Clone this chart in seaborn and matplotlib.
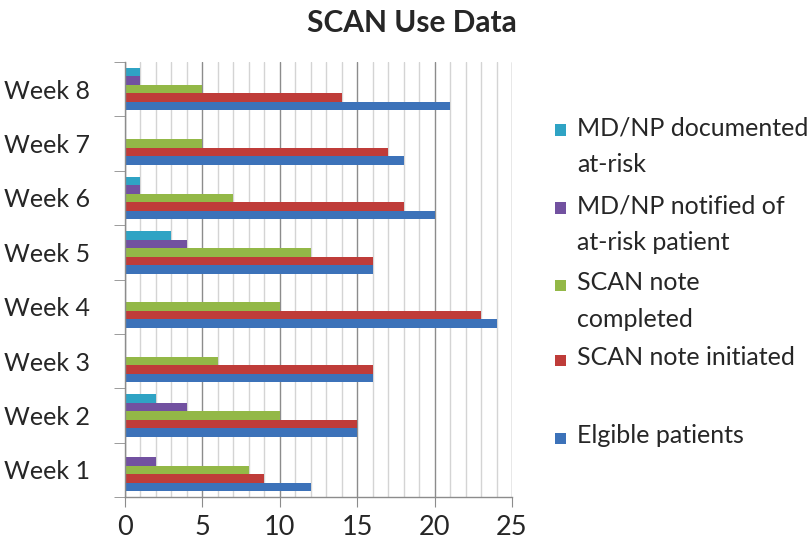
import matplotlib
matplotlib.use("Agg")
import matplotlib.pyplot as plt
import seaborn as sns
import pandas as pd
from matplotlib.patches import Rectangle
from matplotlib.ticker import MultipleLocator

weeks = ["Week 1", "Week 2", "Week 3", "Week 4", "Week 5", "Week 6", "Week 7", "Week 8"]
series = ["MD/NP documented at-risk", "MD/NP notified of at-risk patient",
          "SCAN note completed", "SCAN note initiated", "Elgible patients"]
legend_labels = ["MD/NP documented\nat-risk", "MD/NP notified of\nat-risk patient",
                 "SCAN note\ncompleted", "SCAN note initiated", "Elgible patients"]
documented = [0, 2, 0, 0, 3, 1, 0, 1]
notified = [2, 4, 0, 0, 4, 1, 0, 1]
completed = [8, 10, 6, 10, 12, 7, 5, 5]
initiated = [9, 15, 16, 23, 16, 18, 17, 14]
eligible = [12, 15, 16, 24, 16, 20, 18, 21]
colors = ["#2FA3C4", "#7251A0", "#93B847", "#BF3C39", "#3C72B9"]

rows = []
for name, vals in zip(series, [documented, notified, completed, initiated, eligible]):
    for w, v in zip(weeks, vals):
        rows.append({"week": w, "series": name, "value": v})
df = pd.DataFrame(rows)

sns.set_style("white")
plt.rcParams['font.family'] = ['Lato', 'DejaVu Sans']

fig = plt.figure(figsize=(8.12, 5.44), dpi=100)
ax = fig.add_axes([125/812, 1-497/544, (512-125)/812, (497-62)/544])

sns.barplot(data=df, y="week", x="value", hue="series", order=weeks[::-1],
            hue_order=series, palette=colors, orient="h", width=0.78,
            ax=ax, legend=False, saturation=1, edgecolor="none")

ax.set_xlim(0, 25)
ax.xaxis.set_major_locator(MultipleLocator(5))
ax.xaxis.set_minor_locator(MultipleLocator(1))
ax.grid(False)
ax.grid(True, axis="x", which="minor", color="#d4d4d4", lw=1.0, zorder=0)
ax.grid(True, axis="x", which="major", color="#8c8c8c", lw=1.0, zorder=0)
ax.set_axisbelow(True)
for s in ["top", "right"]:
    ax.spines[s].set_visible(False)
for s in ["left", "bottom"]:
    ax.spines[s].set_color("#8c8c8c")
    ax.spines[s].set_linewidth(1.0)
ax.set_xlabel("")
ax.set_ylabel("")
ax.tick_params(axis="x", which="major", direction="out", length=7, color="#8c8c8c",
               labelsize=19.5, pad=6, bottom=True)
ax.tick_params(axis="x", which="minor", length=0)
ax.set_yticks([i + 0.5 for i in range(-1, 8)], minor=True)
ax.tick_params(axis="y", which="minor", direction="out", length=8, color="#8c8c8c", left=True)
ax.tick_params(axis="y", which="major", length=0, labelsize=18, pad=25)

fig.text(412/812, 1 - 23/544, "SCAN Use Data", ha="center", va="center",
         fontsize=21.5, fontweight="bold")

# legend
ys = [130, 208, 285, 360, 438]
for lab, col, y in zip(legend_labels, colors, ys):
    fig.add_artist(Rectangle((555/812, 1 - (y + 5.5)/544), 11/812, 11/544,
                             transform=fig.transFigure, facecolor=col, edgecolor="none"))
    fig.text(577/812, 1 - (y - 14)/544, lab, ha="left", va="top", fontsize=18,
             linespacing=1.72)

fig.savefig("out.png", dpi=100)
